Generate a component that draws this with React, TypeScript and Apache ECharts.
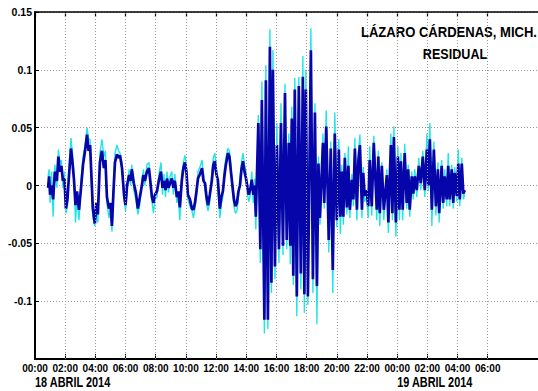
import React, { useEffect, useRef } from "react";
import * as echarts from "echarts";

// Sample times, minutes after 18 April 2014 00:00
const minutes = [
  52, 56, 60, 66, 72, 79, 87, 93, 99, 105,
  111, 117, 123, 129, 135, 143, 149, 155, 161, 167,
  175, 183, 191, 199, 207, 213, 219, 225, 230, 238,
  244, 250, 258, 266, 274, 280, 286, 294, 300, 306,
  312, 318, 326, 332, 338, 346, 354, 360, 366, 374,
  380, 385, 393, 401, 409, 417, 425, 431, 437, 445,
  453, 459, 465, 471, 477, 485, 493, 501, 507, 513,
  519, 525, 531, 537, 544, 550, 556, 564, 570, 576,
  584, 590, 596, 602, 608, 616, 624, 630, 636, 642,
  648, 656, 664, 670, 676, 682, 688, 695, 703, 709,
  715, 721, 727, 735, 741, 747, 753, 759, 767, 773,
  779, 785, 791, 797, 803, 809, 815, 821, 827, 833,
  839, 845, 850, 856, 862, 868, 874, 878, 888, 896,
  902, 912, 918, 926, 934, 940, 946, 954, 962, 970,
  978, 986, 994, 1001, 1009, 1015, 1021, 1027, 1033, 1041,
  1049, 1057, 1065, 1071, 1077, 1085, 1097, 1105, 1113, 1121,
  1127, 1133, 1145, 1150, 1158, 1168, 1176, 1184, 1192, 1200,
  1208, 1214, 1220, 1226, 1232, 1240, 1246, 1252, 1260, 1266,
  1272, 1280, 1286, 1292, 1300, 1305, 1311, 1319, 1325, 1331,
  1339, 1347, 1359, 1365, 1371, 1379, 1387, 1399, 1405, 1415,
  1421, 1427, 1435, 1443, 1449, 1455, 1462, 1470, 1478, 1484,
  1490, 1498, 1504, 1510, 1518, 1526, 1534, 1542, 1550, 1558,
  1564, 1570, 1578, 1586, 1594, 1602, 1607, 1617, 1623, 1629,
  1637, 1643, 1649, 1657, 1663, 1669, 1677, 1683, 1689, 1697,
  1703, 1709,
];

// Filtered residual (m)
const residualFiltered = [
  -0.002, 0.008, -0.008, 0.0, -0.012, 0.012, 0.004, 0.025, 0.012, 0.017,
  0.004, 0.006, -0.02, -0.012, 0.008, 0.032, 0.02, 0.005, -0.017, -0.005,
  -0.021, -0.002, 0.018, 0.03, 0.044, 0.03, 0.035, 0.005, -0.02, -0.033,
  -0.015, -0.025, 0.02, 0.03, 0.015, 0.022, -0.01, -0.02, -0.015, -0.035,
  -0.005, 0.02, 0.027, 0.024, 0.026, 0.015, -0.008, -0.017, 0.0, 0.009,
  0.004, 0.014, 0.002, -0.006, -0.02, -0.01, 0.0, 0.009, 0.004, 0.012,
  0.015, 0.003, -0.01, -0.015, -0.008, -0.005, 0.005, 0.012, -0.002, 0.004,
  -0.004, 0.006, -0.002, 0.002, 0.006, -0.002, 0.004, -0.01, -0.005, -0.019,
  0.005, 0.015, 0.02, 0.012, -0.008, -0.012, -0.02, -0.021, -0.015, -0.005,
  0.006, 0.01, 0.015, 0.004, 0.002, -0.01, -0.017, -0.008, 0.004, 0.018,
  0.021, 0.01, 0.005, -0.02, -0.01, -0.005, 0.008, 0.018, 0.028, 0.025,
  0.012, 0.0, -0.012, -0.018, -0.015, -0.005, 0.0, 0.014, 0.021, 0.012,
  0.006, -0.002, -0.008, -0.003, 0.005, -0.008, 0.0, -0.027, 0.054, -0.055,
  0.074, -0.116, 0.091, -0.116, 0.12, -0.084, 0.1, -0.07, 0.035, -0.055,
  0.054, -0.052, 0.08, -0.047, 0.037, -0.052, 0.058, -0.078, 0.083, -0.096,
  0.086, -0.076, 0.094, -0.094, 0.083, -0.096, 0.117, -0.081, 0.063, -0.087,
  0.019, -0.028, 0.037, -0.015, 0.051, -0.047, 0.032, -0.073, 0.045, -0.03,
  0.031, -0.027, 0.012, -0.027, 0.024, -0.019, 0.017, -0.021, 0.005, -0.012,
  0.032, -0.021, 0.022, 0.035, -0.021, 0.011, -0.009, -0.004, -0.018, 0.022,
  -0.018, 0.037, -0.021, 0.025, -0.024, 0.017, -0.021, 0.009, -0.032, 0.035,
  -0.024, 0.042, -0.032, 0.025, -0.021, 0.021, -0.021, 0.028, -0.015, 0.014,
  -0.021, 0.008, -0.007, 0.008, -0.004, 0.017, 0.002, 0.025, -0.004, 0.031,
  0.0, 0.04, -0.021, 0.031, -0.018, 0.014, -0.024, 0.017, -0.015, 0.008,
  -0.012, 0.017, -0.012, 0.014, -0.015, 0.011, -0.009, 0.019, -0.012, 0.019,
  -0.007, -0.004,
];

// Raw residual (m)
const residualRaw = [
  0.008, 0.014, -0.015, 0.012, -0.027, 0.018, -0.002, 0.031, 0.02, 0.022,
  -0.002, 0.012, -0.024, -0.018, 0.014, 0.041, 0.028, 0.01, -0.032, -0.01,
  -0.03, 0.004, 0.025, 0.034, 0.05, 0.04, 0.04, 0.0, -0.028, -0.035,
  -0.02, -0.032, 0.028, 0.04, 0.025, 0.03, -0.015, -0.028, -0.02, -0.04,
  -0.01, 0.028, 0.035, 0.03, 0.028, 0.02, -0.012, -0.022, -0.005, 0.014,
  0.0, 0.018, -0.004, -0.012, -0.025, -0.016, 0.005, 0.014, 0.0, 0.018,
  0.02, -0.002, -0.014, -0.024, -0.012, -0.01, 0.01, 0.02, -0.008, 0.01,
  -0.01, 0.012, -0.006, 0.008, 0.012, -0.008, 0.01, -0.015, -0.01, -0.03,
  0.01, 0.02, 0.026, 0.018, -0.012, -0.018, -0.022, -0.028, -0.02, -0.01,
  0.012, 0.016, 0.022, 0.01, -0.004, -0.016, -0.022, -0.014, 0.01, 0.024,
  0.028, 0.016, 0.0, -0.028, -0.016, -0.01, 0.014, 0.024, 0.032, 0.03,
  0.018, -0.005, -0.018, -0.024, -0.022, -0.01, 0.006, 0.02, 0.028, 0.018,
  0.012, -0.008, -0.014, -0.008, 0.012, -0.015, 0.006, -0.038, 0.061, -0.067,
  0.09, -0.128, 0.104, -0.124, 0.135, -0.093, 0.117, -0.081, 0.054, -0.067,
  0.071, -0.06, 0.088, -0.055, 0.045, -0.068, 0.068, -0.086, 0.093, -0.113,
  0.094, -0.09, 0.112, -0.11, 0.1, -0.103, 0.136, -0.093, 0.071, -0.12,
  0.025, -0.034, 0.045, -0.02, 0.065, -0.058, 0.038, -0.093, 0.063, -0.036,
  0.04, -0.042, 0.018, -0.034, 0.028, -0.025, 0.034, -0.028, 0.01, -0.018,
  0.041, -0.03, 0.028, 0.044, -0.028, 0.016, -0.014, -0.01, -0.028, 0.034,
  -0.026, 0.043, -0.03, 0.03, -0.035, 0.02, -0.03, 0.014, -0.041, 0.045,
  -0.03, 0.051, -0.044, 0.034, -0.03, 0.028, -0.03, 0.036, -0.02, 0.018,
  -0.027, 0.012, -0.012, 0.014, -0.01, 0.024, -0.004, 0.03, -0.01, 0.045,
  -0.005, 0.054, -0.035, 0.038, -0.026, 0.02, -0.032, 0.022, -0.02, 0.014,
  -0.018, 0.028, -0.018, 0.018, -0.02, 0.016, -0.014, 0.031, -0.018, 0.024,
  -0.012, -0.008,
];

// Labelled time ticks (minutes), every two hours up to 06:00 on the 19th
const tickMinutes = [
  0, 120, 240, 360, 480, 600, 720, 840, 960, 1080, 1200, 1320, 1440, 1560, 1680, 1800,
];
const dateLabels = [
  { minute: 0, text: "18 ABRIL 2014" },
  { minute: 1440, text: "19 ABRIL 2014" },
];
const titleText = "LÁZARO CÁRDENAS, MICH.";
const subtitleText = "RESIDUAL";

const X_MAX = 2000;
const sans = "'Liberation Sans', Arial, Helvetica, sans-serif";

const pad = (n: number) => (n < 10 ? "0" + n : String(n));
const timeLabel = (v: number) => pad(Math.floor(v / 60) % 24) + ":00";

export default function App() {
  const ref = useRef<HTMLDivElement | null>(null);

  useEffect(() => {
    if (!ref.current) return;
    const chart = echarts.init(ref.current, undefined, { renderer: "svg" });

    const rawPts = minutes.map((m, i) => [m, residualRaw[i]]);
    const filtPts = minutes.map((m, i) => [m, residualFiltered[i]]);

    chart.setOption({
      animation: false,
      backgroundColor: "#fff",
      grid: { left: 35, right: 0, top: 12, bottom: 32, containLabel: false },
      xAxis: [
        {
          type: "value",
          min: 0,
          max: X_MAX,
          position: "bottom",
          axisLine: { show: true, onZero: false, lineStyle: { color: "#000", width: 2 } },
          axisTick: {
            show: true,
            inside: true,
            length: 5,
            customValues: tickMinutes,
            lineStyle: { color: "#000", width: 1 },
          },
          axisLabel: {
            customValues: tickMinutes,
            formatter: timeLabel,
            color: "#000",
            fontWeight: "bold",
            fontSize: 10,
            fontFamily: sans,
            margin: 4,
          },
          splitLine: { show: false },
        },
        {
          type: "value",
          min: 0,
          max: X_MAX,
          position: "top",
          axisLine: { show: true, onZero: false, lineStyle: { color: "#000", width: 1.5 } },
          axisTick: {
            show: true,
            inside: true,
            length: 5,
            customValues: tickMinutes,
            lineStyle: { color: "#000", width: 1.2 },
          },
          axisLabel: { show: false },
          splitLine: { show: false },
        },
      ],
      yAxis: {
        type: "value",
        min: -0.15,
        max: 0.15,
        interval: 0.05,
        axisLine: { show: true, onZero: false, lineStyle: { color: "#000", width: 2 } },
        axisTick: { show: true, inside: true, length: 4, lineStyle: { color: "#000" } },
        axisLabel: {
          formatter: (v: number) =>
            Math.abs(v + 0.15) < 1e-9 ? "" : String(Number(v.toFixed(2))),
          color: "#000",
          fontWeight: "bold",
          fontSize: 10.5,
          fontFamily: sans,
          margin: 3,
        },
        splitLine: { show: true, lineStyle: { color: "#999", width: 1, type: [1, 2] } },
      },
      series: [
        {
          type: "line",
          data: [],
          z: 1,
          silent: true,
          markLine: {
            silent: true,
            symbol: ["none", "none"],
            label: { show: false },
            lineStyle: { color: "#999", width: 1, type: [1, 2] },
            data: tickMinutes.filter((m) => m > 0).map((m) => ({ xAxis: m })),
          },
        },
        {
          name: "raw",
          type: "line",
          data: rawPts,
          showSymbol: false,
          z: 2,
          lineStyle: { color: "#1fe6e6", width: 1.4 },
        },
        {
          name: "filtered",
          type: "line",
          data: filtPts,
          showSymbol: false,
          z: 3,
          lineStyle: { color: "#0505aa", width: 2.7 },
        },
      ],
    });

    const graphics: any[] = dateLabels.map((d) => {
      const px = chart.convertToPixel({ xAxisIndex: 0 }, d.minute) as number;
      return {
        type: "text",
        x: px,
        y: 383,
        scaleX: 0.78,
        style: {
          text: d.text,
          fill: "#000",
          font: `bold 14px ${sans}`,
          textAlign: "left",
          textVerticalAlign: "middle",
        },
      };
    });
    graphics.push(
      {
        type: "text",
        x: 537,
        y: 32,
        scaleX: 0.87,
        style: {
          text: titleText,
          fill: "#000",
          font: `bold 15px ${sans}`,
          textAlign: "right",
          textVerticalAlign: "middle",
        },
      },
      {
        type: "text",
        x: 455,
        y: 54,
        scaleX: 0.84,
        style: {
          text: subtitleText,
          fill: "#000",
          font: `bold 15px ${sans}`,
          textAlign: "center",
          textVerticalAlign: "middle",
        },
      }
    );
    chart.setOption({ graphic: graphics });

    return () => chart.dispose();
  }, []);

  return (
    <div
      ref={ref}
      style={{ position: "fixed", left: 0, top: 0, width: 538, height: 391, background: "#fff" }}
    />
  );
}
